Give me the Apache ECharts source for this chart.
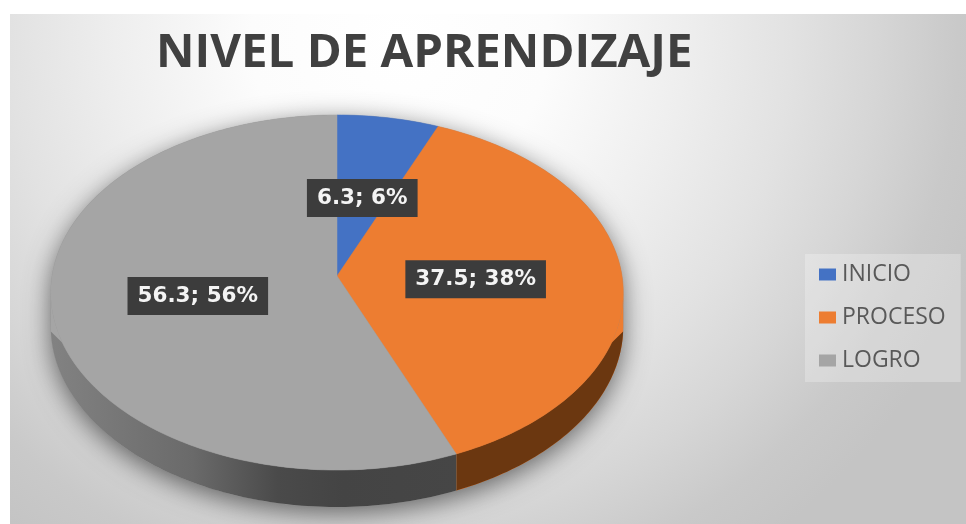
<!DOCTYPE html>
<html lang="es" style="height: 100%">
<head>
  <meta charset="utf-8">
</head>
<body style="height: 100%; margin: 0; background: #fff">
  <div id="container" style="height: 100%"></div>

  <script type="text/javascript" src="https://fastly.jsdelivr.net/npm/echarts@6/dist/echarts.min.js"></script>
  <script type="text/javascript">
    var categories = ['INICIO', 'PROCESO', 'LOGRO'];
    var values = [6.3, 37.5, 56.3];
    var percents = [6, 38, 56];
    var colors = ['#4472c4', '#ed7d31', '#a5a5a5'];

    var myChart = echarts.init(document.getElementById('container'), null, { renderer: 'canvas' });

    // the pie is tilted in perspective, so a plain pie series can't draw it
    var CX = 337, CY = 276, A = 285, B = 176, K = 0.093, DEPTH = 33.5;
    var SIDE_FROM = 95.3, SIDE_TO = 264.7; // where the rim turns away from the viewer
    var SHADE_TOP = 18, SHADE_LOW = 1.7; // the dark wall fades out short of those two points

    function project(deg, r, drop) {
      var a = deg * Math.PI / 180;
      var u = r * Math.sin(a);
      var v = -r * Math.cos(a);
      var w = 1 - K * v;
      return [CX + A * u / w, CY + B * v / w + (drop ? DEPTH / w : 0)];
    }

    function rim(from, to, drop) {
      var pts = [];
      var n = Math.max(2, Math.ceil(Math.abs(to - from)));
      for (var i = 0; i <= n; i++) {
        pts.push(project(from + (to - from) * i / n, 1, drop));
      }
      return pts;
    }

    var total = values.reduce(function (s, v) { return s + v; }, 0);
    var starts = [];
    values.reduce(function (s, v, i) {
      starts[i] = s / total * 360;
      return s + v;
    }, 0);

    var sideFills = [
      null,
      '#6b3710',
      new echarts.graphic.LinearGradient(0, 0, 1, 0, [
        { offset: 0, color: '#828282' },
        { offset: 0.35, color: '#6a6a6a' },
        { offset: 0.56, color: '#4a4a4a' },
        { offset: 0.72, color: '#444444' },
        { offset: 1, color: '#464646' }
      ])
    ];

    function sector(idx) {
      return function () {
        var from = starts[idx];
        var to = from + values[idx] / total * 360;
        var children = [];
        var sFrom = Math.max(from, SIDE_FROM);
        var sTo = Math.min(to, SIDE_TO);
        if (sTo > sFrom) {
          // wall in the face colour first, the shaded part lies on top of it
          children.push({
            type: 'polygon',
            shape: { points: rim(sFrom, sTo, false).concat(rim(sTo, sFrom, true)) },
            style: { fill: colors[idx] }
          });
          var topA = Math.max(from, SIDE_FROM + SHADE_TOP - SHADE_LOW);
          var topB = Math.min(to, SIDE_TO - SHADE_TOP + SHADE_LOW);
          var lowA = Math.max(from, SIDE_FROM + SHADE_LOW);
          var lowB = Math.min(to, SIDE_TO - SHADE_LOW);
          children.push({
            type: 'polygon',
            shape: { points: rim(topA, topB, false).concat(rim(lowB, lowA, true)) },
            style: { fill: sideFills[idx] }
          });
        }
        children.push({
          type: 'polygon',
          shape: { points: [project(0, 0)].concat(rim(from, to, false)) },
          style: { fill: colors[idx], stroke: colors[idx], lineWidth: 0.5 }
        });
        var c = project((from + to) / 2, 0.49);
        children.push({
          type: 'text',
          z2: 10,
          style: {
            x: c[0] - 1,
            y: c[1] + 3,
            text: values[idx] + '; ' + percents[idx] + '%',
            align: 'center',
            verticalAlign: 'middle',
            fill: '#f4f4f4',
            font: 'bold 21.5px "DejaVu Sans"',
            backgroundColor: '#3c3c3c',
            padding: [8, 10, 8, 10],
            boxShadowBlur: 8,
            boxShadowColor: 'rgba(0,0,0,0.45)',
            boxShadowOffsetX: 2,
            boxShadowOffsetY: 3
          }
        });
        return { type: 'group', children: children };
      };
    }

    myChart.setOption({
      animation: false,
      color: colors,
      title: {
        text: 'NIVEL DE APRENDIZAJE',
        left: 156,
        top: 30,
        padding: 0,
        textStyle: { color: '#404040', fontFamily: 'Open Sans', fontWeight: 'bold', fontSize: 47.4 }
      },
      legend: {
        orient: 'vertical',
        left: 805,
        top: 254,
        padding: [9, 15, 10, 14],
        itemWidth: 17,
        itemHeight: 12,
        itemGap: 20,
        icon: 'rect',
        backgroundColor: 'rgba(255,255,255,0.25)',
        selectedMode: false,
        textStyle: { color: '#595959', fontFamily: 'Open Sans', fontSize: 23, padding: [0, 0, 0, 1] },
        data: categories
      },
      graphic: [
        {
          type: 'rect',
          z: 0,
          silent: true,
          shape: { x: 10, y: 14, width: 956, height: 510 },
          style: {
            fill: new echarts.graphic.RadialGradient(400, 40, 620, [
              { offset: 0, color: '#ffffff' },
              { offset: 0.24, color: '#fcfcfc' },
              { offset: 0.46, color: '#eeeeee' },
              { offset: 0.63, color: '#e2e2e2' },
              { offset: 0.77, color: '#d6d6d6' },
              { offset: 0.9, color: '#c9c9c9' },
              { offset: 1, color: '#c4c4c4' }
            ], true)
          }
        },
        {
          type: 'polygon',
          z: 1,
          silent: true,
          shape: { points: rim(SIDE_FROM, SIDE_TO, true).concat(rim(SIDE_TO, SIDE_FROM + 360, false)) },
          style: {
            fill: '#8a8a8a',
            shadowBlur: 26,
            shadowColor: 'rgba(0,0,0,0.55)',
            shadowOffsetY: 6
          }
        }
      ],
      series: categories.map(function (name, i) {
        return {
          type: 'custom',
          name: name,
          z: 2,
          silent: true,
          coordinateSystem: 'none',
          renderItem: sector(i),
          data: [values[i]]
        };
      })
    });

    window.addEventListener('resize', myChart.resize);
  </script>
</body>
</html>
